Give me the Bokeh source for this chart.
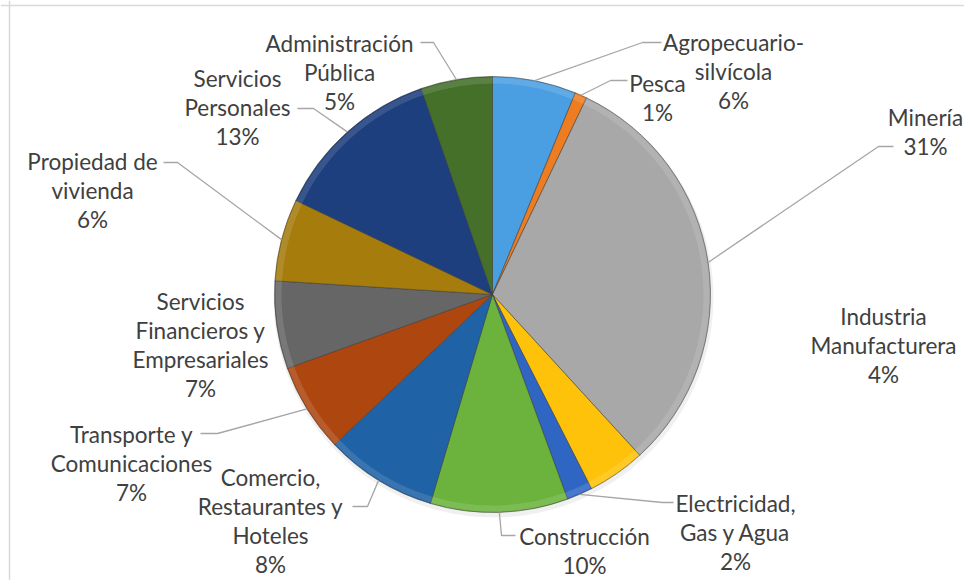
import numpy as np
from bokeh.plotting import figure
from bokeh.models import ColumnDataSource, Range1d, Span
from bokeh.core.properties import value
from bokeh.embed import file_html
from bokeh.resources import INLINE

# ---- data ----
categories = ["Agropecuario-\nsilvícola", "Pesca", "Minería", "Industria\nManufacturera",
              "Electricidad,\nGas y Agua", "Construcción", "Comercio,\nRestaurantes y\nHoteles",
              "Transporte y\nComunicaciones", "Servicios\nFinancieros y\nEmpresariales",
              "Propiedad de\nvivienda", "Servicios\nPersonales", "Administración\nPública"]
shares = [6.2, 0.9, 31.1, 4.3, 1.9, 10.2, 8.3, 6.6, 6.5, 6.1, 12.6, 5.3]
colors = ["#4A9FE3", "#EE7D22", "#A8A8A8", "#FFC20A", "#2F66C4", "#6CB33E",
          "#1F62A5", "#AE460F", "#666666", "#A67C0C", "#1D3F7E", "#44702A"]

# ---- layout (picture pixel coordinates) ----
W, H = 964, 580
CX, CY, R = 492, 294, 218
LINE_H = 29
label_anchor = [(733, 42), (657, 83), (925, 117), (883, 316), (735, 503), (584, 536),
                (270, 477), (131, 434), (200, 301), (92, 161), (237, 78), (339, 43)]
leader_pts = [((642, 42), (661, 42)), ((610, 80), (627, 80)), ((878, 146), (893, 146)), None,
              ((662, 502), (673, 502)), ((501, 535), (515, 535)), ((367, 506), (352, 506)),
              ((217, 433), (200, 433)), None, ((177, 162), (163, 162)),
              ((313, 108), (297, 108)), ((433, 42), (420, 42))]


def px(x):
    return x


def py(y):
    return H - y


p = figure(width=W, height=H, output_backend="svg", toolbar_location=None,
           x_range=Range1d(0, W), y_range=Range1d(0, H), min_border=0)
p.axis.visible = False
p.grid.visible = False
p.outline_line_color = None
p.background_fill_color = "white"
p.border_fill_color = "white"

# chart frame (left and top edges visible)
p.add_layout(Span(location=px(9), dimension="height", line_color="#d9d9d9", line_width=1.5))
p.add_layout(Span(location=py(5), dimension="width", line_color="#d9d9d9", line_width=1.5))

vals = np.array(shares, dtype=float)
frac = vals / vals.sum()
cum = np.concatenate([[0.0], np.cumsum(frac)])
start = np.pi / 2 - 2 * np.pi * cum[:-1]
end = np.pi / 2 - 2 * np.pi * cum[1:]
mid = (start + end) / 2

cx, cy = px(CX), py(CY)

# soft shadow
p.circle(x=[cx + 1], y=[cy - 3], radius=R + 2, fill_color="#000000", fill_alpha=0.06, line_color=None)

src = ColumnDataSource(dict(start=start, end=end, color=colors, cat=categories, share=vals))
p.wedge(x=cx, y=cy, radius=R, start_angle="start", end_angle="end", direction="clock",
        fill_color="color", line_color="#3a3a3a", line_alpha=0.55, line_width=1, source=src)
# bevel highlight
p.annular_wedge(x=cx, y=cy, inner_radius=R - 7, outer_radius=R - 1, start_angle="start",
                end_angle="end", direction="clock", fill_color="white", fill_alpha=0.12,
                line_color=None, source=src)

# leader lines
xs, ys = [], []
for i, lp in enumerate(leader_pts):
    if lp is None:
        continue
    sx = cx + R * np.cos(mid[i])
    sy = cy + R * np.sin(mid[i])
    (ex, ey), (fx, fy) = lp
    xs.append([sx, px(ex), px(fx)])
    ys.append([sy, py(ey), py(fy)])
p.multi_line(xs=xs, ys=ys, line_color="#a6a6a6", line_width=1.3)

# labels
tx, ty, tt = [], [], []
for i, cat in enumerate(categories):
    lines = cat.split("\n") + [f"{int(vals[i] + 0.5)}%"]
    ax, ay = label_anchor[i]
    for k, ln in enumerate(lines):
        tx.append(px(ax))
        ty.append(py(ay + k * LINE_H))
        tt.append(ln)
p.text(x=tx, y=ty, text=tt, text_font=value("Lato"), text_font_size="22.5px",
       text_color="#404040", text_align="center", text_baseline="alphabetic")

open("out.html", "w").write(file_html(p, INLINE))
